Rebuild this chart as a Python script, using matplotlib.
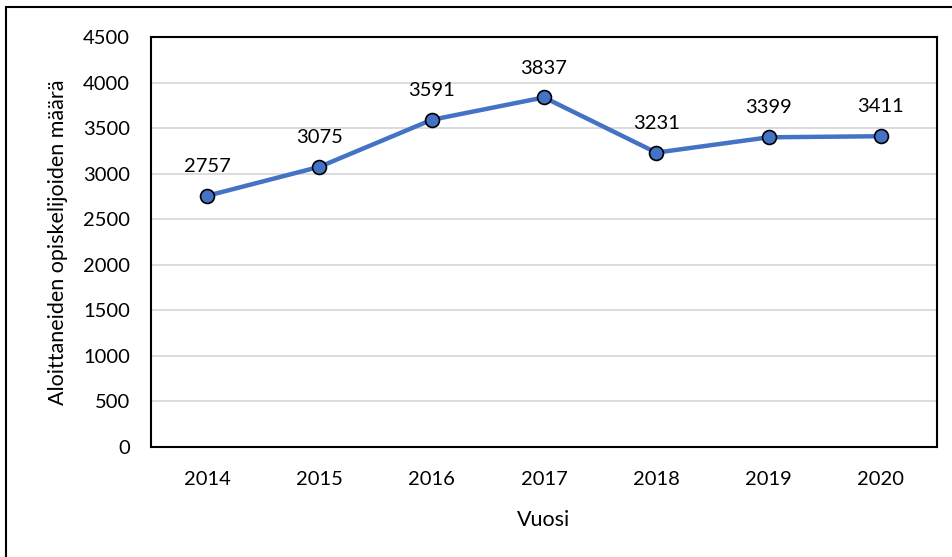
"""Aloittaneiden opiskelijoiden määrä vuosittain (Excel-tyylinen viivakaavio)."""
import matplotlib.pyplot as plt
from matplotlib.patches import Rectangle

years = ["2014", "2015", "2016", "2017", "2018", "2019", "2020"]
students = [2757, 3075, 3591, 3837, 3231, 3399, 3411]
yticks = [0, 500, 1000, 1500, 2000, 2500, 3000, 3500, 4000, 4500]

plt.rcParams["font.family"] = ["Lato", "DejaVu Sans"]

W, H = 952, 557
fig = plt.figure(figsize=(W / 100, H / 100), dpi=100)
# outer chart border (left and top visible, rest runs off the image)
fig.patches.append(Rectangle((6 / W, -0.05), 1.1, 1 - 7 / H + 0.05,
                             transform=fig.transFigure, fill=False,
                             edgecolor="black", linewidth=1.5))

ax = fig.add_axes([151 / W, 1 - 447 / H, (937 - 151) / W, (447 - 37) / H])
x = range(len(years))
ax.plot(x, students, color="#4472C4", linewidth=3.2, marker="o",
        markersize=10, markerfacecolor="#4472C4", markeredgecolor="black",
        markeredgewidth=1.2, zorder=3)
for xi, v in zip(x, students):
    ax.annotate(str(v), (xi, v), xytext=(0, 15), textcoords="offset points",
                ha="center", va="bottom", fontsize=14.5)

ax.set_xlim(-0.5, len(years) - 0.5)
ax.set_ylim(0, 4500)
ax.set_xticks(list(x))
ax.set_xticklabels(years)
ax.set_yticks(yticks)
ax.tick_params(length=0, labelsize=14.5)
ax.tick_params(axis="y", pad=15)
ax.tick_params(axis="x", pad=17)
ax.grid(axis="y", color="#d9d9d9", linewidth=1.3)
ax.set_axisbelow(True)
for s in ax.spines.values():
    s.set_linewidth(1.5)
    s.set_color("black")
ax.set_xlabel("Vuosi", fontsize=15.5, labelpad=16)
ax.set_ylabel("Aloittaneiden opiskelijoiden määrä", fontsize=15.5, labelpad=11)

fig.savefig("out.png", dpi=100)
